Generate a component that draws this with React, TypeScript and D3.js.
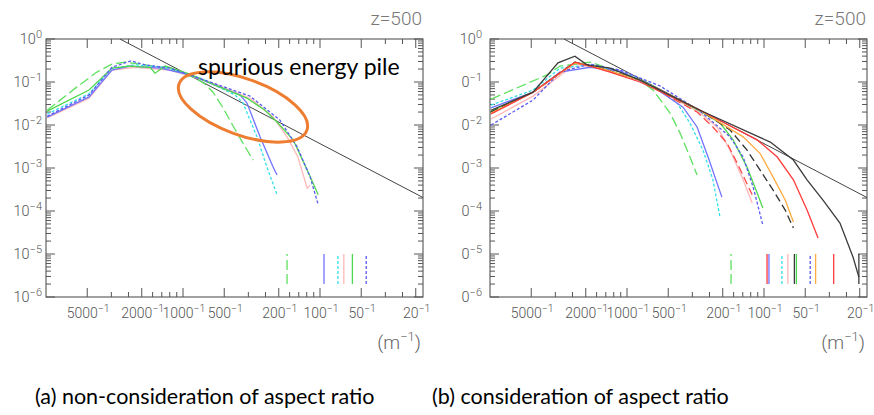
import React from "react";
import * as d3 from "d3";

// ---------- data: [wavelength (m), spectral energy] ----------
// panel (a) non-consideration of aspect ratio
const aGreenLongDash: [number, number][] = [[9800,0.022],[5940,0.077],[4250,0.17],[3300,0.26],[2650,0.29],[2060,0.26],[1470,0.22],[1050,0.17],[817,0.124],[691,0.09],[604,0.058],[510,0.025],[431,0.0095],[365,0.0038],[308,0.00153]];
const aGreenSolid: [number, number][] = [[9800,0.021],[4850,0.065],[3300,0.21],[2440,0.235],[1740,0.22],[1600,0.16],[1350,0.235],[890,0.153],[584,0.085],[341,0.042],[252,0.022],[206,0.0117],[157,0.0045],[124,0.0009],[103,0.00024]];
const aBlueSolid: [number, number][] = [[9800,0.0153],[4850,0.045],[3300,0.19],[2440,0.235],[1470,0.21],[890,0.146],[584,0.085],[384,0.05],[341,0.0325],[274,0.0053],[220,0.00105],[206,0.00069]];
const aCyanDash: [number, number][] = [[9800,0.018],[4850,0.053],[3300,0.21],[2240,0.25],[1350,0.22],[751,0.124],[417,0.05],[365,0.0325],[288,0.0053],[244,0.00105],[206,0.00024]];
const aPinkSolid: [number, number][] = [[9800,0.0146],[4850,0.042],[3300,0.19],[2240,0.22],[1245,0.19],[635,0.1],[324,0.042],[220,0.0153],[174,0.0053],[145,0.0018],[124,0.00034],[118,0.0004]];
const aBlueDash: [number, number][] = [[9800,0.016],[4850,0.05],[3300,0.22],[2400,0.31],[1890,0.25],[1245,0.21],[635,0.1],[324,0.047],[196,0.013],[147,0.0031],[118,0.00062],[103,0.000138]];
const aMarkerWavelengths = [174, 93.5, 74, 67, 58, 46];

// panel (b) consideration of aspect ratio
const bGreenLongDash: [number, number][] = [[9830,0.04],[3840,0.146],[3080,0.235],[1860,0.29],[1125,0.17],[804,0.111],[646,0.065],[485,0.019],[410,0.0065],[347,0.0018],[308,0.00069]];
const bCyanDash: [number, number][] = [[9830,0.029],[4850,0.065],[3080,0.21],[1860,0.25],[1125,0.18],[679,0.09],[431,0.0325],[347,0.0111],[279,0.0026],[236,0.00053],[209,0.0000687]];
const bBlueSolid: [number, number][] = [[9830,0.025],[4850,0.058],[3080,0.17],[1860,0.22],[1125,0.18],[626,0.0725],[390,0.026],[308,0.009],[256,0.0018],[203,0.00021]];
const bRedDash: [number, number][] = [[9830,0.019],[4850,0.058],[2400,0.28],[1575,0.21],[804,0.111],[308,0.02],[236,0.009],[186,0.0038],[157,0.0013],[122,0.00024]];
const bPinkSolid: [number, number][] = [[9830,0.0138],[4850,0.047],[2400,0.26],[1575,0.21],[804,0.111],[293,0.019],[220,0.009],[177,0.0026],[142,0.00053],[122,0.000153]];
const bGreenSolid: [number, number][] = [[9830,0.021],[4850,0.058],[2400,0.29],[1575,0.21],[804,0.111],[293,0.021],[209,0.0111],[168,0.0045],[133,0.00105],[112,0.00026],[102,0.000117]];
const bBlueDash: [number, number][] = [[9830,0.01],[4850,0.038],[3080,0.17],[1860,0.26],[1125,0.19],[574,0.081],[293,0.021],[177,0.0053],[142,0.0018],[120,0.00036],[102,0.0000472]];
const bBlackDash: [number, number][] = [[9830,0.02],[4850,0.058],[2400,0.29],[1575,0.21],[804,0.111],[293,0.022],[177,0.0077],[133,0.0026],[107,0.0009],[86,0.00031],[70,0.000105],[61,0.0000403]];
const bOrangeSolid: [number, number][] = [[9830,0.019],[4850,0.058],[2400,0.28],[1575,0.21],[804,0.111],[293,0.022],[142,0.0053],[107,0.0022],[86,0.00062],[70,0.00018],[61,0.0000555]];
const bRedSolid: [number, number][] = [[9830,0.018],[4850,0.058],[2400,0.29],[1860,0.235],[1330,0.17],[804,0.1],[293,0.022],[112,0.0045],[80,0.0018],[61,0.00053],[48.5,0.000105],[40.3,0.0000235]];
const bBlackSolid: [number, number][] = [[9830,0.022],[4850,0.058],[3190,0.28],[2400,0.4],[1960,0.25],[1330,0.21],[804,0.111],[293,0.022],[90,0.004],[61,0.00153],[48.5,0.00053],[37.1,0.00018],[27.9,0.0000526],[22.4,0.0000085],[20.3,0.0000029]];
const bMarkerWavelengths = [174, 95, 92, 74, 67, 60, 58, 46, 42, 31, 20.3];

const xTickWavelengths = [5000, 2000, 1000, 500, 200, 100, 50, 20];
const yTickExponents = [0, -1, -2, -3, -4, -5, -6];
const refSlope = -5 / 3;
const refLogAmplitude = -5.767;
const markerRange = [2e-6, 1e-5];
const captions = ["(a) non-consideration of aspect ratio", "(b) consideration of aspect ratio"];
const zLabel = "z=500";
const annotation = "spurious energy pile";

// ---------- styles ----------
const S = {
  greenLong: { color: "#5fe05f", dash: "10,4" },
  greenSolid: { color: "#4fd84f", dash: "" },
  blueSolid: { color: "#7373ff", dash: "" },
  cyanDash: { color: "#33e0e8", dash: "3,2" },
  pink: { color: "#ffb8b8", dash: "" },
  blueDash: { color: "#5a5af0", dash: "3,2" },
  redDash: { color: "#ff4a4a", dash: "8,4" },
  blackDash: { color: "#333", dash: "8,4" },
  orange: { color: "#ffab40", dash: "" },
  redSolid: { color: "#ff3a3a", dash: "" },
  blackSolid: { color: "#3a3a3a", dash: "" },
};

const aSeries = [
  { d: aPinkSolid, s: S.pink },
  { d: aGreenLongDash, s: S.greenLong },
  { d: aCyanDash, s: S.cyanDash },
  { d: aBlueSolid, s: S.blueSolid },
  { d: aGreenSolid, s: S.greenSolid },
  { d: aBlueDash, s: S.blueDash },
];
const aMarkerStyles = [S.greenLong, S.blueSolid, S.cyanDash, S.pink, S.greenSolid, S.blueDash];

const bSeries = [
  { d: bPinkSolid, s: S.pink },
  { d: bGreenLongDash, s: S.greenLong },
  { d: bCyanDash, s: S.cyanDash },
  { d: bBlueSolid, s: S.blueSolid },
  { d: bRedDash, s: S.redDash },
  { d: bGreenSolid, s: S.greenSolid },
  { d: bBlueDash, s: S.blueDash },
  { d: bBlackDash, s: S.blackDash },
  { d: bOrangeSolid, s: S.orange },
  { d: bRedSolid, s: S.redSolid },
  { d: bBlackSolid, s: S.blackSolid },
];
const bMarkerStyles = [S.greenLong, S.redSolid, S.blueSolid, S.cyanDash, S.pink, S.blackSolid, S.greenSolid, S.blueDash, S.orange, S.redSolid, S.blackSolid];

const W = 874, H = 415;
const TOP = 39, BOTTOM = 297, PW = 377, DEC = 137;
const AX = "#555";
const FONT = "Roboto, 'DejaVu Sans', sans-serif";
const CAPFONT = "Lato, 'Open Sans', sans-serif";

function Panel({ x0, labelGap, series, markers, markerStyles, clipId, clipX, ellipse }: any) {
  const kMin = 1e-4;
  const kMax = Math.pow(10, -4 + PW / DEC);
  const x = d3.scaleLog().domain([kMin, kMax]).range([x0, x0 + PW]);
  const y = d3.scaleLog().domain([1e-6, 1]).range([BOTTOM, TOP]);
  const line = d3.line<[number, number]>().x((p) => x(1 / p[0])).y((p) => y(p[1]));

  const majorK = xTickWavelengths.map((w) => 1 / w);
  const minorK: number[] = [];
  for (let e = -4; e <= -2; e++) for (let m = 1; m <= 9; m++) {
    const k = m * Math.pow(10, e);
    if (k >= kMin * 0.999 && k <= kMax && ![1, 2, 5].includes(m)) minorK.push(k);
  }
  for (let e = -4; e <= -2; e++) { const k = Math.pow(10, e); if (k > kMin * 1.001 && !majorK.some((q) => Math.abs(q - k) < 1e-12)) majorK.push(k); }
  const yMinor: number[] = [];
  for (let e = -6; e < 0; e++) for (let m = 2; m <= 9; m++) yMinor.push(m * Math.pow(10, e));

  const refE = (k: number) => Math.pow(10, refLogAmplitude + refSlope * Math.log10(k));
  const kStart = Math.pow(10, (0 - refLogAmplitude) / refSlope);
  const refPts: [number, number][] = [[1 / kStart, refE(kStart)], [1 / kMax, refE(kMax)]];

  const sup = (t: string, fs = 11, dy = -6) => <tspan dy={dy} fontSize={fs}>{t}</tspan>;

  return (
    <g clipPath={clipId ? `url(#${clipId})` : undefined}>
      {clipId && (
        <defs>
          <clipPath id={clipId}><rect x={clipX} y={0} width={W} height={H} /></clipPath>
        </defs>
      )}
      <text x={x0 + PW - 1} y={25} textAnchor="end" fontFamily={FONT} fontWeight={300} fontSize={19} fill="#777">{zLabel}</text>
      <rect x={x0} y={TOP} width={PW} height={BOTTOM - TOP} fill="none" stroke={AX} strokeWidth={1.1} />
      {majorK.map((k, i) => (
        <g key={"xm" + i}>
          <line x1={x(k)} x2={x(k)} y1={BOTTOM} y2={BOTTOM - 9} stroke={AX} />
          <line x1={x(k)} x2={x(k)} y1={TOP} y2={TOP + 9} stroke={AX} />
        </g>
      ))}
      {minorK.map((k, i) => (
        <g key={"xn" + i}>
          <line x1={x(k)} x2={x(k)} y1={BOTTOM} y2={BOTTOM - 5} stroke={AX} />
          <line x1={x(k)} x2={x(k)} y1={TOP} y2={TOP + 5} stroke={AX} />
        </g>
      ))}
      {xTickWavelengths.map((w, i) => (
        <text key={"xl" + i} x={x(1 / w) + 1} y={318} textAnchor="middle" fontFamily={FONT} fontWeight={300} fontSize={14} fill="#555">
          {String(w)}{sup("−1", 10.5)}
        </text>
      ))}
      <text x={x0 + PW - 2} y={349} textAnchor="end" fontFamily={FONT} fontWeight={300} fontSize={19} fill="#666">
        (m{sup("−1", 13, -8)}<tspan dy={8}>)</tspan>
      </text>
      {yTickExponents.map((e, i) => (
        <g key={"ym" + i}>
          <line x1={x0} x2={x0 + 9} y1={y(Math.pow(10, e))} y2={y(Math.pow(10, e))} stroke={AX} />
          <line x1={x0 + PW} x2={x0 + PW - 9} y1={y(Math.pow(10, e))} y2={y(Math.pow(10, e))} stroke={AX} />
          <text x={x0 - labelGap} y={y(Math.pow(10, e)) + 5} textAnchor="end" fontFamily={FONT} fontWeight={300} fontSize={14.5} fill="#555">
            10{sup(e === 0 ? "0" : "−" + Math.abs(e))}
          </text>
        </g>
      ))}
      {yMinor.map((v, i) => (
        <g key={"yn" + i}>
          <line x1={x0} x2={x0 + 5} y1={y(v)} y2={y(v)} stroke={AX} />
          <line x1={x0 + PW} x2={x0 + PW - 5} y1={y(v)} y2={y(v)} stroke={AX} />
        </g>
      ))}
      <path d={line(refPts) || ""} fill="none" stroke="#444" strokeWidth={1} />
      {series.map((s: any, i: number) => (
        <path key={"c" + i} d={line(s.d) || ""} fill="none" stroke={s.s.color} strokeWidth={1.3} strokeDasharray={s.s.dash} />
      ))}
      {markers.map((w: number, i: number) => (
        <line key={"mk" + i} x1={x(1 / w)} x2={x(1 / w)} y1={y(markerRange[0])} y2={y(markerRange[1])}
          stroke={markerStyles[i].color} strokeWidth={1.3} strokeDasharray={markerStyles[i].dash} />
      ))}
      {ellipse}
    </g>
  );
}

export default function App() {
  return (
    <svg width={W} height={H} style={{ position: "absolute", left: 0, top: 0, background: "#fff" }}>
      <rect width={W} height={H} fill="#fff" />
      <Panel x0={46} labelGap={4} series={aSeries} markers={aMarkerWavelengths} markerStyles={aMarkerStyles}
        ellipse={
          <g>
            <ellipse cx={243} cy={107} rx={68} ry={28} transform="rotate(20 243 107)" fill="none" stroke="#ED7D31" strokeWidth={3} />
            <text x={198} y={75} fontFamily={CAPFONT} fontSize={23} fill="#000">{annotation}</text>
          </g>
        } />
      <Panel x0={490} labelGap={8} series={bSeries} markers={bMarkerWavelengths} markerStyles={bMarkerStyles} clipId="clipB" clipX={460.5} />
      <text x={35} y={404} fontFamily={CAPFONT} fontSize={21.5} fill="#000">{captions[0]}</text>
      <text x={432} y={404} fontFamily={CAPFONT} fontSize={21.5} fill="#000">{captions[1]}</text>
    </svg>
  );
}
